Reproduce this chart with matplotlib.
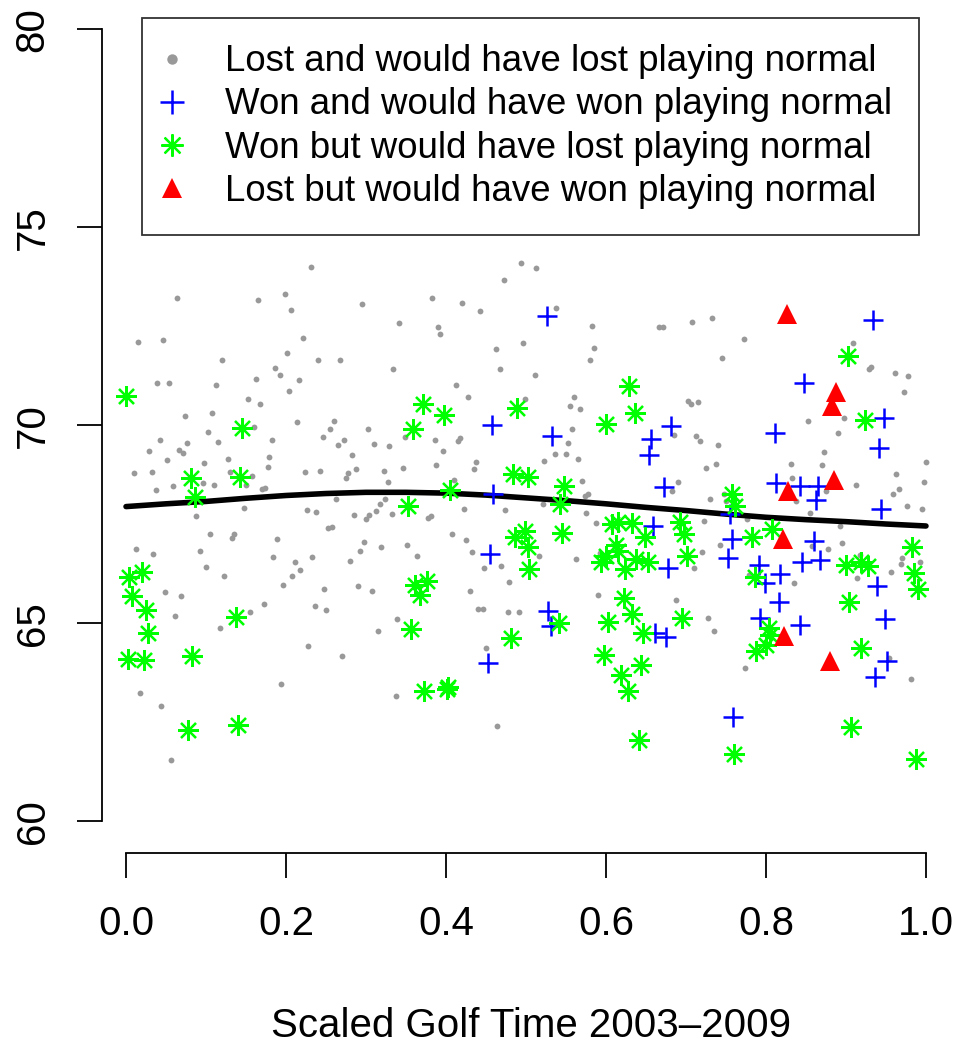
import matplotlib
matplotlib.use("Agg")
import matplotlib.pyplot as plt
from matplotlib.lines import Line2D

plt.rcParams['font.family'] = ['Liberation Sans', 'DejaVu Sans']

# lost and would have lost (gray dots)
lost_x = [0.231, 0.064, 0.199, 0.165, 0.206, 0.015, 0.046, 0.221, 0.201, 0.120, 0.240, 0.186,
          0.192, 0.162, 0.216, 0.039, 0.054, 0.113, 0.204, 0.152, 0.167, 0.074, 0.108, 0.214,
          0.160, 0.103, 0.042, 0.076, 0.115, 0.182, 0.029, 0.066, 0.071, 0.051, 0.128, 0.179,
          0.098, 0.177, 0.010, 0.032, 0.130, 0.224, 0.242, 0.158, 0.096, 0.037, 0.059, 0.110,
          0.150, 0.170, 0.174, 0.147, 0.226, 0.238, 0.088,
          0.494, 0.472, 0.295, 0.383, 0.420, 0.443, 0.341, 0.390, 0.393, 0.496, 0.462, 0.268,
          0.334, 0.467, 0.413, 0.428, 0.499, 0.260, 0.255, 0.302, 0.246, 0.265, 0.273, 0.310,
          0.329, 0.349, 0.386, 0.418, 0.415, 0.396, 0.283, 0.437, 0.388, 0.278, 0.288, 0.275,
          0.322, 0.346, 0.435, 0.327, 0.410, 0.263, 0.324, 0.318, 0.312, 0.304, 0.300, 0.285,
          0.332, 0.378, 0.381, 0.423, 0.474, 0.253, 0.257,
          0.513, 0.538, 0.582, 0.666, 0.671, 0.708, 0.732, 0.585, 0.580, 0.745, 0.511, 0.560,
          0.555, 0.568, 0.703, 0.706, 0.715, 0.558, 0.553, 0.536, 0.550, 0.565, 0.523, 0.685,
          0.713, 0.718, 0.740, 0.737, 0.725, 0.570, 0.690, 0.683, 0.578, 0.574, 0.730, 0.521,
          0.575, 0.587, 0.723, 0.750, 0.747,
          0.772, 0.909, 0.929, 0.931, 0.961, 0.978, 0.973, 0.853, 0.897, 0.890, 0.873, 0.831,
          0.870, 1.000, 0.963, 0.998, 0.833, 0.912, 0.966, 0.959, 0.875, 0.838, 0.855, 0.976,
          0.995, 0.776, 0.893,
          0.105, 0.135, 0.133, 0.189, 0.012, 0.034, 0.093, 0.184, 0.233, 0.211, 0.218, 0.208,
          0.100, 0.123, 0.196, 0.049, 0.069, 0.236, 0.172, 0.155, 0.061, 0.118, 0.228, 0.194,
          0.017, 0.044, 0.056,
          0.297, 0.292, 0.319, 0.351, 0.364, 0.280, 0.408, 0.425, 0.433, 0.447, 0.469, 0.479,
          0.248, 0.290, 0.307, 0.430, 0.250, 0.440, 0.446, 0.477, 0.491, 0.339, 0.315, 0.450,
          0.270, 0.337, 0.464,
          0.516, 0.563, 0.592, 0.742, 0.720, 0.710, 0.590, 0.688, 0.728, 0.735,
          0.857, 0.877, 0.895, 0.917, 0.914, 0.956, 0.970, 0.969, 0.993, 0.779, 0.835, 0.774,
          0.954, 0.981]
lost_y = [74.01, 73.21, 73.32, 73.16, 72.92, 72.10, 72.16, 72.20, 71.83, 71.66, 71.65, 71.46,
          71.28, 71.18, 71.15, 71.08, 71.07, 71.01, 70.87, 70.66, 70.53, 70.24, 70.31, 70.09,
          69.95, 69.83, 69.64, 69.56, 69.57, 69.64, 69.36, 69.37, 69.31, 69.13, 69.14, 69.20,
          69.05, 68.96, 68.80, 68.83, 68.83, 68.83, 68.86, 68.73, 68.55, 68.38, 68.46, 68.50,
          68.50, 68.39, 68.42, 67.92, 67.86, 67.81, 67.70,
          74.11, 73.66, 73.06, 73.22, 73.09, 72.89, 72.58, 72.49, 72.31, 72.08, 71.94, 71.66,
          71.42, 71.43, 71.02, 70.71, 70.66, 70.12, 69.90, 69.91, 69.70, 69.51, 69.63, 69.54,
          69.49, 69.70, 69.63, 69.69, 69.60, 69.35, 69.24, 69.08, 69.01, 68.81, 68.89, 68.66,
          68.84, 68.92, 68.89, 68.58, 68.62, 68.13, 68.14, 68.02, 67.85, 67.74, 67.64, 67.75,
          67.77, 67.66, 67.72, 67.89, 67.86, 67.41, 67.43,
          73.97, 72.97, 72.51, 72.48, 72.49, 72.61, 72.72, 71.96, 71.65, 71.71, 71.27, 70.72,
          70.48, 70.41, 70.62, 70.55, 70.60, 69.92, 69.55, 69.29, 69.27, 69.16, 69.10, 69.75,
          69.72, 69.61, 69.51, 69.03, 68.92, 68.59, 68.58, 68.35, 68.26, 68.21, 68.13, 68.02,
          67.80, 67.53, 67.58, 68.08, 68.27,
          72.17, 72.08, 71.42, 71.47, 71.32, 71.25, 70.84, 70.10, 70.19, 69.80, 69.33, 69.02,
          68.99, 69.07, 68.78, 68.58, 68.67, 68.50, 68.40, 68.26, 68.35, 68.08, 67.79, 67.97,
          67.88, 67.64, 67.47,
          67.27, 67.26, 67.16, 67.13, 66.87, 66.76, 66.82, 66.68, 66.67, 66.54, 66.34, 66.19,
          66.43, 66.19, 65.97, 65.79, 65.70, 65.44, 65.48, 65.30, 65.19, 64.88, 64.43, 63.46,
          63.24, 62.91, 61.56,
          67.05, 66.84, 66.93, 66.99, 66.69, 66.57, 67.25, 67.10, 66.81, 66.41, 66.46, 66.04,
          65.86, 65.95, 65.81, 65.81, 65.35, 65.37, 65.37, 65.29, 65.29, 65.11, 64.82, 64.38,
          64.19, 63.16, 62.42,
          66.69, 66.63, 66.77, 66.98, 66.81, 66.41, 65.72, 65.60, 65.14, 64.81,
          66.96, 66.88, 67.02, 66.72, 66.14, 66.31, 66.64, 66.50, 66.56, 66.23, 66.02, 63.88,
          64.13, 63.59]

# won and would have won (blue plus)
won_x = [0.457, 0.459, 0.455, 0.452, 0.526, 0.533, 0.681, 0.656, 0.654, 0.673, 0.659, 0.755,
         0.757, 0.752, 0.678, 0.528, 0.531, 0.661, 0.675, 0.759, 0.860, 0.845, 0.8675, 0.791,
         0.818, 0.799, 0.816, 0.793, 0.843, 0.939, 0.949, 0.951, 0.936, 0.934, 0.848, 0.947,
         0.811, 0.941, 0.813, 0.842, 0.865, 0.863, 0.944]
won_y = [70.00, 68.27, 66.75, 64.00, 72.76, 69.72, 69.98, 69.66, 69.25, 68.45, 67.47, 67.76,
         67.13, 66.66, 66.39, 65.32, 64.94, 64.77, 64.66, 62.63, 67.09, 66.54, 66.60, 66.47,
         66.24, 66.01, 65.54, 65.13, 64.97, 65.95, 65.10, 64.05, 63.65, 72.67, 71.08, 70.18,
         69.82, 69.42, 68.54, 68.48, 68.48, 68.11, 67.90]

# won but would have lost (green asterisk)
wonlost_x = [0.004, 0.020, 0.007, 0.025, 0.027, 0.002, 0.022, 0.083, 0.137, 0.078, 0.140,
             0.000, 0.145, 0.081, 0.142, 0.086,
             0.371, 0.398, 0.359, 0.489, 0.484, 0.503, 0.405, 0.353,
             0.486, 0.499, 0.503, 0.504, 0.361, 0.376, 0.368, 0.356, 0.481, 0.373, 0.401, 0.403,
             0.629, 0.636, 0.600, 0.548, 0.543, 0.758, 0.761,
             0.545, 0.607, 0.615, 0.632, 0.6925, 0.698, 0.649, 0.6125, 0.615, 0.600, 0.594,
             0.624, 0.638, 0.652, 0.701, 0.622, 0.633, 0.6025, 0.541, 0.646, 0.695, 0.597,
             0.644, 0.619, 0.627, 0.641, 0.760,
             0.782, 0.808, 0.983, 0.985, 0.990, 0.900, 0.919, 0.927, 0.786, 0.904, 0.804,
             0.805, 0.800, 0.788, 0.919, 0.906, 0.988,
             0.902, 0.924]
wonlost_y = [66.16, 66.29, 65.69, 65.34, 64.75, 64.11, 64.08, 64.19, 65.16, 62.30, 62.43,
             70.73, 69.94, 68.66, 68.69, 68.19,
             70.55, 70.25, 69.91, 70.43, 68.78, 68.69, 68.37, 67.97,
             67.19, 67.34, 66.92, 66.37, 65.97, 66.06, 65.72, 64.87, 64.64, 63.30, 63.35, 63.40,
             70.99, 70.31, 70.04, 68.47, 68.01, 68.28, 67.97,
             67.29, 67.51, 67.55, 67.53, 67.55, 67.25, 67.17, 66.99, 66.84, 66.71, 66.54,
             66.37, 66.62, 66.54, 66.71, 65.63, 65.25, 65.04, 65.02, 64.75, 65.13, 64.20,
             63.95, 63.71, 63.30, 62.06, 61.71,
             67.17, 67.38, 66.92, 66.27, 65.86, 66.47, 66.54, 66.46, 66.16, 65.54, 64.89,
             64.72, 64.46, 64.30, 64.38, 62.39, 61.58,
             71.75, 70.14]

# lost but would have won (red triangle)
lostwon_x = [0.826, 0.8875, 0.8825, 0.885, 0.828, 0.821, 0.823, 0.880]
lostwon_y = [72.81, 70.84, 70.48, 68.61, 68.35, 67.13, 64.68, 64.06]

# smooth trend
trend_x = [0.0, 0.05, 0.1, 0.15, 0.2, 0.25, 0.3, 0.35, 0.4, 0.45, 0.5,
           0.55, 0.6, 0.65, 0.7, 0.75, 0.8, 0.85, 0.9, 0.95, 1.0]
trend_y = [67.95, 68.02, 68.08, 68.16, 68.23, 68.28, 68.31, 68.31, 68.29, 68.24, 68.17,
           68.10, 68.02, 67.93, 67.85, 67.76, 67.68, 67.62, 67.57, 67.51, 67.46]

labels = ["Lost and would have lost playing normal",
          "Won and would have won playing normal",
          "Won but would have lost playing normal",
          "Lost but would have won playing normal"]

W, H = 961, 1043
fig = plt.figure(figsize=(W / 100, H / 100), dpi=100)
ax = fig.add_axes([101.7 / W, (H - 853.3) / H, 848.6 / W, 855.6 / H])
ax.set_xlim(-0.0304, 1.0304)
ax.set_ylim(59.197, 80.797)

asterisk = (8, 2, 0)
ax.plot(lost_x, lost_y, ls='none', marker='o', ms=4.2, mew=0, color='#999999')
ax.plot(trend_x, trend_y, color='black', lw=4.0, solid_capstyle='round')
ax.plot(won_x, won_y, ls='none', marker='+', ms=15, mew=1.8, color='blue')
ax.plot(wonlost_x, wonlost_y, ls='none', marker=asterisk, ms=15, mew=1.6, color='#00ff00')
ax.plot(lostwon_x, lostwon_y, ls='none', marker='^', ms=15, mew=0, color='red')

for s in ['top', 'right']:
    ax.spines[s].set_visible(False)
ax.spines['left'].set_bounds(60, 80)
ax.spines['bottom'].set_bounds(0, 1)
for s in ['left', 'bottom']:
    ax.spines[s].set_linewidth(1.3)

ax.set_xticks([0, 0.2, 0.4, 0.6, 0.8, 1.0])
ax.set_xticklabels(["0.0", "0.2", "0.4", "0.6", "0.8", "1.0"])
ax.set_yticks([60, 65, 70, 75, 80])
ax.tick_params(axis='both', direction='out', length=18, width=1.3, labelsize=29)
ax.tick_params(axis='x', pad=19)
ax.tick_params(axis='y', pad=18, labelrotation=90)
for t in ax.get_yticklabels():
    t.set_va('center')

fig.text(531 / W, (H - 1037) / H, "Scaled Golf Time 2003\u20132009", fontsize=29,
         ha='center', va='baseline')

handles = [Line2D([], [], ls='none', marker='o', ms=7.5, mew=0, color='#999999'),
           Line2D([], [], ls='none', marker='+', ms=17, mew=1.8, color='blue'),
           Line2D([], [], ls='none', marker=asterisk, ms=16, mew=1.6, color='#00ff00'),
           Line2D([], [], ls='none', marker='^', ms=15, mew=0, color='red')]
leg = ax.legend(handles, labels, loc='upper left', bbox_to_anchor=(142 / W, 1 - 18 / H),
                bbox_transform=fig.transFigure, fontsize=26.4, frameon=True, fancybox=False,
                borderaxespad=0, borderpad=0.72, handlelength=0.2, handletextpad=1.35,
                labelspacing=0.22, numpoints=1)
leg.get_frame().set_edgecolor('black')
leg.get_frame().set_linewidth(1.3)

fig.savefig("out.png", dpi=100)
